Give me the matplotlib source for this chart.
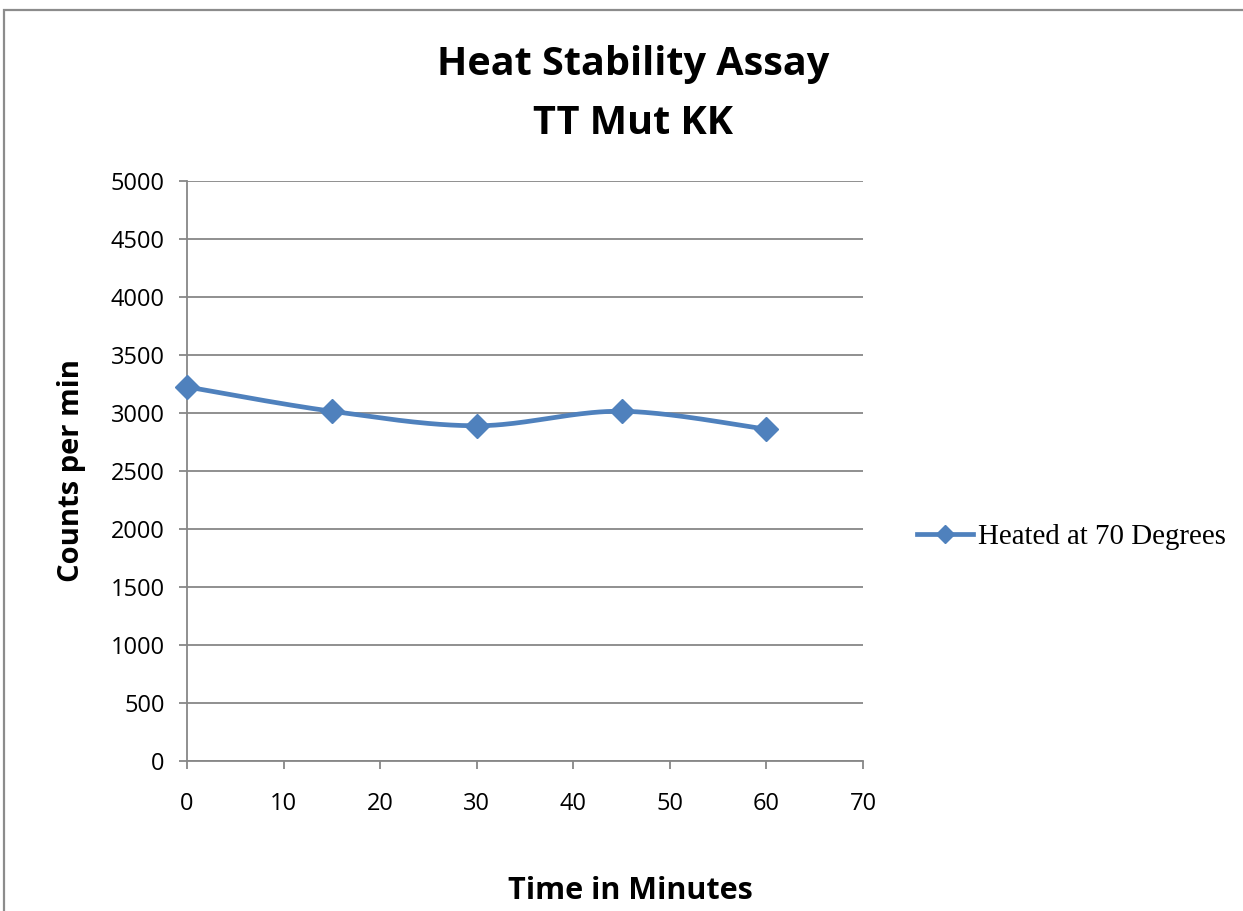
import matplotlib.pyplot as plt
import numpy as np
from matplotlib.lines import Line2D
from matplotlib.patches import Rectangle

minutes = [0, 15, 30, 45, 60]
counts = [3225, 3015, 2890, 3015, 2860]
series_label = "Heated at 70 Degrees"
x_ticks = [0, 10, 20, 30, 40, 50, 60, 70]
y_ticks = list(range(0, 5001, 500))

BLUE = "#4F81BD"
GRID = "#878787"


def smooth_curve(xs, ys, steps=40):
    """Catmull-Rom style smoothing through the points, like a spreadsheet 'smoothed line'."""
    pts = np.column_stack([xs, ys]).astype(float)
    padded = np.vstack([pts[0], pts, pts[-1]])
    out = []
    t = np.linspace(0, 1, steps)[:, None]
    for i in range(1, len(padded) - 2):
        p0, p1, p2, p3 = padded[i - 1], padded[i], padded[i + 1], padded[i + 2]
        c1 = p1 + (p2 - p0) / 6
        c2 = p2 - (p3 - p1) / 6
        seg = ((1 - t) ** 3) * p1 + 3 * ((1 - t) ** 2) * t * c1 + 3 * (1 - t) * t ** 2 * c2 + t ** 3 * p2
        out.append(seg if i == 1 else seg[1:])
    seg = np.vstack(out)
    return seg[:, 0], seg[:, 1]


fig = plt.figure(figsize=(12.43, 9.11), dpi=100)
ax = fig.add_axes([0.1504, 0.1647, 0.5439, 0.6366])

# outer chart frame
fig.patches.append(Rectangle((0.0032, -0.2), 1.2, 1.189, transform=fig.transFigure,
                             fill=False, edgecolor="#8C8C8C", linewidth=1.6))

sx, sy = smooth_curve(minutes, counts)
ax.plot(sx, sy, color=BLUE, linewidth=3.4, solid_capstyle="round", zorder=3,
        clip_on=False)
ax.plot(minutes, counts, linestyle="none", marker="D", markersize=12.5,
        color=BLUE, zorder=4, clip_on=False)

ax.set_xlim(0, 70)
ax.set_ylim(0, 5000)
ax.set_xticks(x_ticks)
ax.set_yticks(y_ticks)

ax.grid(axis="y", color=GRID, linewidth=1.3)
ax.set_axisbelow(True)
for side in ("top", "right"):
    ax.spines[side].set_visible(False)
for side in ("left", "bottom"):
    ax.spines[side].set_color(GRID)
    ax.spines[side].set_linewidth(1.3)

ax.tick_params(axis="both", direction="out", length=6, width=1.3, color=GRID,
               labelsize=17)
for lbl in ax.get_xticklabels() + ax.get_yticklabels():
    lbl.set_family("Open Sans")
ax.tick_params(axis="x", pad=16)
ax.tick_params(axis="y", pad=10)

ax.set_ylabel("Counts per min", fontsize=21, fontweight="bold", family="Open Sans",
              labelpad=18)
fig.text(0.507, 0.022, "Time in Minutes", fontsize=22, fontweight="bold",
         family="Open Sans", ha="center", va="center")

fig.text(0.509, 0.929, "Heat Stability Assay", fontsize=28.5, fontweight="bold",
         family="Open Sans", ha="center", va="center")
fig.text(0.509, 0.864, "TT Mut KK", fontsize=28.5, fontweight="bold",
         family="Open Sans", ha="center", va="center")

handle = Line2D([], [], color=BLUE, linewidth=3.4, marker="D", markersize=9)
fig.legend([handle], [series_label], loc="center left",
           bbox_to_anchor=(0.7377, 0.411), frameon=False, handlelength=1.95,
           handletextpad=0.15, borderpad=0, borderaxespad=0,
           prop={"family": "Liberation Serif", "size": 20.8})

fig.savefig("out.png", dpi=100)
